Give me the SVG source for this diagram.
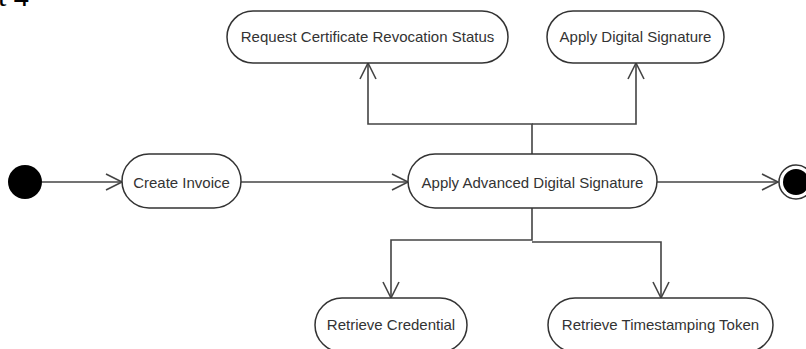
<svg xmlns="http://www.w3.org/2000/svg" width="806" height="349" viewBox="0 0 806 349">
<style>
.node rect{fill:#fff;stroke:#333;stroke-width:1.5}
.node text{font-family:"Liberation Sans",Arial,sans-serif;font-size:15px;fill:#333;text-anchor:middle;dominant-baseline:central}
.conn path{fill:none;stroke:#444;stroke-width:1.6}
.cap{font-family:"Liberation Serif","Times New Roman",serif;font-size:30px;fill:#000}
</style>
<defs>
<marker id="arr" markerUnits="userSpaceOnUse" markerWidth="20" markerHeight="20" refX="17" refY="9" orient="auto" overflow="visible">
<path d="M1,1 L17,9 L1,17" fill="none" stroke="#444" stroke-width="1.6"/>
</marker>
</defs>
<rect width="806" height="349" fill="#fff"/>
<text class="cap" x="-2" y="6">t 4</text>
<g class="conn">
<path d="M42,182 H122" marker-end="url(#arr)"/>
<path d="M241,182 H408" marker-end="url(#arr)"/>
<path d="M657,182 H778" marker-end="url(#arr)"/>
<path d="M532,154 V124 H368 V63" marker-end="url(#arr)"/>
<path d="M532,124 H636 V63" marker-end="url(#arr)"/>
<path d="M532,208 V240 H391 V298" marker-end="url(#arr)"/>
<path d="M532,242 H661 V298" marker-end="url(#arr)"/>
</g>
<g id="start"><circle cx="25" cy="182" r="17" fill="#000"/></g>
<g id="create-invoice" class="node"><rect x="122" y="154" width="119" height="54" rx="27"/><text x="181.5" y="182">Create Invoice</text></g>
<g id="apply-advanced" class="node"><rect x="408" y="154" width="249" height="54" rx="27"/><text x="532.5" y="182">Apply Advanced Digital Signature</text></g>
<g id="request-crs" class="node"><rect x="227" y="11" width="281" height="52" rx="26"/><text x="367.5" y="36">Request Certificate Revocation Status</text></g>
<g id="apply-digital" class="node"><rect x="547" y="11" width="177" height="52" rx="26"/><text x="635.5" y="36">Apply Digital Signature</text></g>
<g id="retrieve-credential" class="node"><rect x="315" y="298" width="152" height="54" rx="27"/><text x="391" y="324">Retrieve Credential</text></g>
<g id="retrieve-token" class="node"><rect x="548" y="298" width="225" height="54" rx="27"/><text x="660.5" y="324">Retrieve Timestamping Token</text></g>
<g id="end"><circle cx="796" cy="182" r="17" fill="#fff" stroke="#333" stroke-width="1.5"/><circle cx="796" cy="182" r="13" fill="#000"/></g>
</svg>
